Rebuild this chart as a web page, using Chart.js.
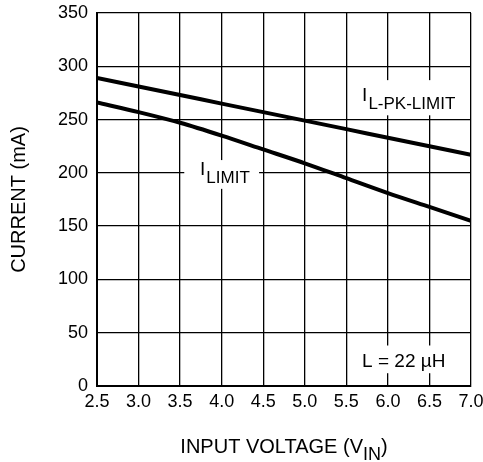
<!DOCTYPE html>
<html>
<head>
<meta charset="utf-8">
<script src="https://cdn.jsdelivr.net/npm/chart.js@4.4.0/dist/chart.umd.min.js"></script>
<style>
  body { margin: 0; background: #fff; }
</style>
</head>
<body>
<canvas id="myChart" width="483" height="462"></canvas>
<script>
// input voltage (V)
const vin = [2.5, 3.0, 3.5, 4.0, 4.5, 5.0, 5.5, 6.0, 6.5, 7.0];
// I_L-PK-LIMIT (mA)
const iPkLimit = [289, 281, 273, 265, 257, 249, 241, 233, 225, 217];
// I_LIMIT (mA)
const iLimit = [266, 257, 247, 235, 222, 209, 195, 181, 168, 155];

const FONT = 'Arial, "Liberation Sans", sans-serif';

// text labels drawn on the plot, with white boxes behind them (data units)
const notes = [
  { main: 'I', sub: 'L-PK-LIMIT', x: 5.69, y: 267, box: [5.6, 6.87, 287, 254] },
  { main: 'I', sub: 'LIMIT', x: 3.74, y: 198, box: [3.55, 4.45, 212, 185] },
  { main: 'L = 22 \u00B5H', sub: '', x: 5.69, y: 18, box: [5.6, 6.87, 38, 12] }
];

const labelsPlugin = {
  id: 'labels',
  afterDraw(chart) {
    const c = chart.ctx, xs = chart.scales.x, ys = chart.scales.y;
    c.save();
    notes.forEach(n => {
      const b = n.box;
      const x0 = xs.getPixelForValue(b[0]), x1 = xs.getPixelForValue(b[1]);
      const y0 = ys.getPixelForValue(b[2]), y1 = ys.getPixelForValue(b[3]);
      c.fillStyle = '#fff';
      c.fillRect(x0, y0, x1 - x0, y1 - y0);
      const px = xs.getPixelForValue(n.x), py = ys.getPixelForValue(n.y);
      c.fillStyle = '#000';
      c.textBaseline = 'alphabetic';
      c.textAlign = 'left';
      c.font = '19px ' + FONT;
      c.fillText(n.main, px, py);
      if (n.sub) {
        const w = c.measureText(n.main).width;
        c.font = '17px ' + FONT;
        c.fillText(n.sub, px + w + 1, py + 8);
      }
    });

    // x axis title with subscript
    const a = chart.chartArea;
    c.font = '20px ' + FONT;
    const t1 = 'INPUT VOLTAGE (V', t2 = 'IN', t3 = ')';
    const w1 = c.measureText(t1).width, w3 = c.measureText(t3).width;
    c.font = '18px ' + FONT;
    const w2 = c.measureText(t2).width;
    let x = (a.left + a.right) / 2 - (w1 + w2 + w3) / 2;
    const base = 453;
    c.font = '20px ' + FONT;
    c.fillText(t1, x, base);
    c.font = '18px ' + FONT;
    c.fillText(t2, x + w1, base + 7);
    c.font = '20px ' + FONT;
    c.fillText(t3, x + w1 + w2, base);
    c.restore();
  }
};

const ctx = document.getElementById('myChart');

new Chart(ctx, {
  type: 'line',
  data: {
    datasets: [
      {
        label: 'I_L-PK-LIMIT',
        data: vin.map((v, i) => ({ x: v, y: iPkLimit[i] })),
        borderColor: '#000',
        borderWidth: 4,
        pointRadius: 0,
        tension: 0.3
      },
      {
        label: 'I_LIMIT',
        data: vin.map((v, i) => ({ x: v, y: iLimit[i] })),
        borderColor: '#000',
        borderWidth: 4,
        pointRadius: 0,
        tension: 0.3
      }
    ]
  },
  options: {
    responsive: false,
    animation: false,
    layout: { padding: { top: 13, right: 12, left: 0, bottom: 0 } },
    plugins: {
      legend: { display: false },
      tooltip: { enabled: false }
    },
    scales: {
      x: {
        type: 'linear',
        min: 2.5,
        max: 7.0,
        afterFit: s => { s.height = 76; s.paddingLeft = 0; s.paddingRight = 0; },
        border: { color: '#000', width: 2 },
        grid: { color: '#000', lineWidth: 1.3, drawTicks: false },
        ticks: {
          stepSize: 0.5,
          color: '#000',
          padding: 5,
          font: { size: 18, family: FONT },
          maxRotation: 0,
          callback: v => v.toFixed(1)
        }
      },
      y: {
        min: 0,
        max: 350,
        afterFit: s => { s.width = 97; s.paddingTop = 0; s.paddingBottom = 0; },
        border: { color: '#000', width: 2 },
        grid: { color: '#000', lineWidth: 1.3, drawTicks: false },
        ticks: {
          stepSize: 50,
          color: '#000',
          padding: 9,
          font: { size: 18, family: FONT }
        },
        title: {
          display: true,
          text: 'CURRENT (mA)',
          color: '#000',
          font: { size: 20, family: FONT },
          padding: { top: 7, bottom: 0 }
        }
      }
    }
  },
  plugins: [labelsPlugin]
});
</script>
</body>
</html>
